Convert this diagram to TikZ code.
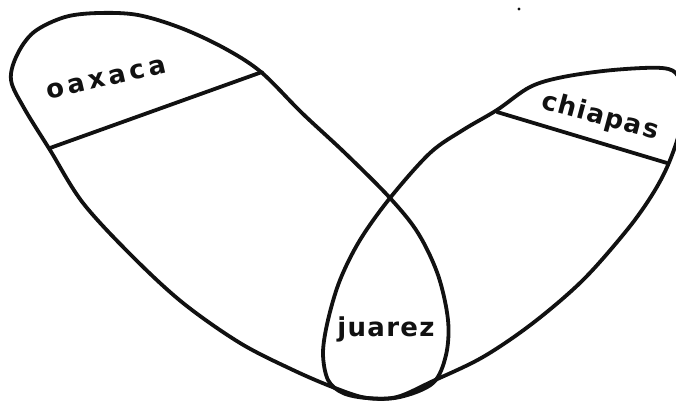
\documentclass[tikz,border=0pt]{standalone}
\usepackage{fontspec}
\newfontfamily\handfont[LetterSpace=5]{DejaVu Sans}
\usetikzlibrary{calc}
\definecolor{inkblack}{HTML}{111111}
\tikzset{
  regionline/.style={line width=3.8pt,inkblack,line join=round},
  divider/.style={line width=3.8pt,inkblack,line cap=round},
  statelabel/.style={font=\handfont\bfseries\fontsize{26}{26}\selectfont,inkblack,inner sep=0pt}
}

\begin{document}
\begin{tikzpicture}[x=1pt, y=-1pt]
  \useasboundingbox (0,0) rectangle (676,404);
  \clip (0,0) rectangle (676,404);
  % oaxaca region
  \draw[regionline] plot[smooth cycle, tension=0.55] coordinates {
    (11,80) (17,55) (34,32) (65,17) (99,13) (138,15) (181,28) (224,48) (261,72)
    (302,113) (345,153) (390,198) (418,233) (438,275) (448,320) (446,355) (433,383)
    (400,397) (367,398) (335,388) (293,370) (240,343) (183,303) (133,257) (83,203)
    (50,150) (24,108)};
  % chiapas region
  \draw[regionline] plot[smooth cycle, tension=0.55] coordinates {
    (497,110) (530,87) (563,77) (613,70) (662,68) (678,76) (683,100) (680,130)
    (668,165) (652,195) (627,230) (583,280) (533,323) (483,357) (433,381) (397,397)
    (367,398) (343,393) (328,380) (323,353) (328,320) (340,280) (360,240) (390,198)
    (430,153) (463,130)};
  \coordinate (oaxW) at (50,148);
  \coordinate (oaxE) at (262,72);
  \coordinate (chiW) at (497,112);
  \coordinate (chiE) at (667,163);
  \draw[divider] (oaxW) -- (oaxE);
  \draw[divider] (chiW) -- (chiE);
  \node[statelabel, rotate=13] (oaxaca) at (106,79) {\addfontfeature{LetterSpace=15}oaxaca};
  \node[statelabel, rotate=-15] (chiapas) at (600,117) {chiapas};
  \node[statelabel] (juarez) at (386,329) {juarez};
  \fill[inkblack] (519,9) circle (1.6);
\end{tikzpicture}
\end{document}
